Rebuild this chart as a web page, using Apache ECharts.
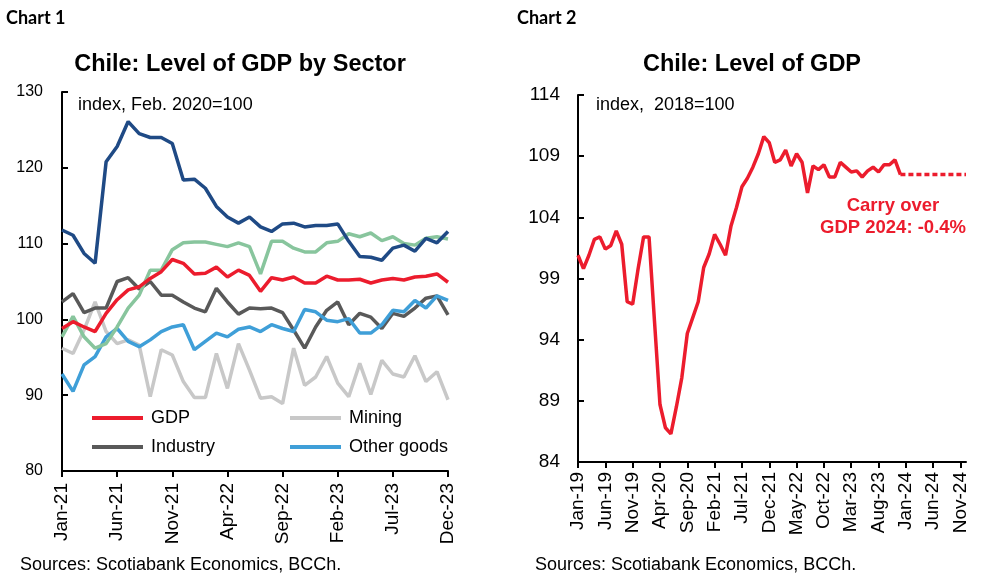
<!DOCTYPE html>
<html>
<head>
<meta charset="utf-8">
<script src="https://cdn.jsdelivr.net/npm/echarts@6/dist/echarts.min.js"></script>
<style>
html,body{margin:0;padding:0;background:#fff;}
#c{width:994px;height:579px;}
</style>
</head>
<body>
<div id="c"></div>
<script>
// ---- Chart 1 data (Jan-21 .. Dec-23) ----
const months1 = ["Jan-21","Feb-21","Mar-21","Apr-21","May-21","Jun-21","Jul-21","Aug-21","Sep-21","Oct-21","Nov-21","Dec-21",
"Jan-22","Feb-22","Mar-22","Apr-22","May-22","Jun-22","Jul-22","Aug-22","Sep-22","Oct-22","Nov-22","Dec-22",
"Jan-23","Feb-23","Mar-23","Apr-23","May-23","Jun-23","Jul-23","Aug-23","Sep-23","Oct-23","Nov-23","Dec-23"];
const gdp = [98.8,99.7,99.0,98.4,100.8,102.6,103.9,104.3,105.4,106.3,107.9,107.4,106.0,106.1,106.9,105.6,106.5,105.8,103.7,105.5,105.2,105.6,104.8,104.8,105.7,105.2,105.2,105.3,104.8,105.2,105.4,105.2,105.6,105.7,106.0,104.9];
const mining = [96.2,95.5,98.6,102.3,98.4,96.8,97.3,96.6,89.8,96.0,95.3,91.8,89.7,89.7,95.5,90.9,96.8,93.3,89.6,89.8,88.9,96.2,91.3,92.4,95.1,91.6,89.8,94.2,90.1,94.6,92.8,92.4,95.2,91.8,93.1,89.4];
const industry = [102.3,103.4,100.9,101.5,101.5,105.0,105.5,104.0,105.0,103.2,103.2,102.3,101.5,101.0,104.1,102.3,100.7,101.5,101.4,101.5,100.9,98.6,96.2,99.0,101.2,102.3,99.3,100.8,100.3,98.8,100.8,100.4,101.5,102.8,103.1,100.6];
const otherGoods = [92.8,90.5,94.0,95.1,97.7,98.8,97.1,96.4,97.3,98.4,99.0,99.3,96.0,97.1,98.2,97.7,98.7,99.0,98.4,99.3,98.8,98.4,101.3,101.0,99.9,99.7,100.1,98.2,98.2,99.3,101.2,101.0,102.5,101.5,103.1,102.5];
const services = [111.8,111.1,108.7,107.4,120.8,122.8,126.1,124.5,124.0,124.0,123.2,118.4,118.5,117.3,114.9,113.5,112.7,113.5,112.2,111.6,112.6,112.7,112.2,112.4,112.4,112.6,110.3,108.3,108.2,107.8,109.4,109.8,109.0,110.7,110.1,111.6];
const commerce = [97.7,100.4,97.7,96.2,96.8,99.0,101.5,103.2,106.5,106.5,109.2,110.1,110.2,110.2,109.9,109.6,110.1,109.6,106.0,110.3,110.3,109.4,108.9,108.9,110.1,110.3,111.3,110.9,111.4,110.4,110.9,110.0,109.8,110.7,110.9,110.6];
const yTicks1 = [80,90,100,110,120,130];

// ---- Chart 2 data (Jan-19 .. Dec-24) ----
const months2 = [];
(function(){
  const m = ["Jan","Feb","Mar","Apr","May","Jun","Jul","Aug","Sep","Oct","Nov","Dec"];
  for (let y = 19; y <= 24; y++) for (let k = 0; k < 12; k++) months2.push(m[k] + "-" + y);
})();
const gdpLevel = [100.9,99.8,100.9,102.2,102.4,101.4,101.7,102.9,101.8,97.1,96.9,99.8,
102.4,102.4,95.5,88.7,86.8,86.3,88.5,90.9,94.5,95.8,97.1,99.9,
101.0,102.6,101.8,100.9,103.3,104.8,106.5,107.2,108.1,109.2,110.6,110.1,
108.5,108.7,109.5,108.2,109.2,108.5,106.0,108.2,107.9,108.3,107.3,107.3,
108.5,108.1,107.7,107.8,107.3,107.8,108.1,107.7,108.3,108.3,108.7,107.5];
const carryOver = [107.5,107.5,107.5,107.5,107.5,107.5,107.5,107.5,107.5,107.5,107.5,107.5,107.5]; // Dec-23 .. Dec-24
const yTicks2 = [84,89,94,99,104,109,114];

const solid2 = gdpLevel.concat(new Array(months2.length - gdpLevel.length).fill(null));
const dotted2 = new Array(gdpLevel.length - 1).fill(null).concat(carryOver);

const FONT = "'Liberation Sans', Arial, sans-serif";
const C_GDP = '#ec1c2d', C_MIN = '#c8c8c8', C_IND = '#595959', C_OTH = '#3f9fd8', C_SRV = '#1f4a85', C_COM = '#88c59d';

const chart = echarts.init(document.getElementById('c'), null, {renderer:'canvas'});

function lineSeries(name, data, color, xi, z) {
  return { name, type:'line', data, xAxisIndex:xi, yAxisIndex:xi, symbol:'none', showSymbol:false,
    lineStyle:{color, width:3.5}, itemStyle:{color}, z: z||2, animation:false };
}
function legend(name, left, top) {
  return { data:[name], left, top, padding:0, icon:'rect', itemWidth:51, itemHeight:4, itemGap:0,
    textStyle:{fontFamily:FONT, fontSize:18, color:'#000', padding:[0,0,0,3]} };
}
const catAxisBase = (gi, data, labelSize, margin) => ({
  type:'category', gridIndex:gi, data, boundaryGap:false,
  axisLine:{lineStyle:{color:'#000', width:2}},
  axisTick:{show:true, interval:4, length:6, lineStyle:{color:'#000', width:2}},
  axisLabel:{interval:4, rotate:90, fontFamily:FONT, fontSize:labelSize, color:'#000', margin},
  splitLine:{show:false}
});

chart.setOption({
  animation:false,
  backgroundColor:'#fff',
  grid:[
    {left:62, top:92, width:386, height:379, containLabel:false},
    {left:578, top:95, width:388, height:367, containLabel:false}
  ],
  xAxis:[ catAxisBase(0, months1, 19, 12), catAxisBase(1, months2, 19, 10) ],
  yAxis:[
    {type:'value', gridIndex:0, min:yTicks1[0], max:yTicks1[yTicks1.length-1], interval:10,
     axisLine:{show:true, lineStyle:{color:'#000', width:2}},
     axisTick:{show:true, inside:true, length:6, lineStyle:{color:'#000', width:2}},
     axisLabel:{fontFamily:FONT, fontSize:16, color:'#000', margin:19},
     splitLine:{show:false}},
    {type:'value', gridIndex:1, min:yTicks2[0], max:yTicks2[yTicks2.length-1], interval:5,
     axisLine:{show:true, lineStyle:{color:'#000', width:2}},
     axisTick:{show:true, inside:true, length:6, lineStyle:{color:'#000', width:2}},
     axisLabel:{fontFamily:FONT, fontSize:19, color:'#000', margin:18},
     splitLine:{show:false}}
  ],
  legend:[
    legend('GDP', 92, 409),
    legend('Mining', 290, 409),
    legend('Industry', 92, 438),
    legend('Other goods', 290, 438)
  ],
  series:[
    lineSeries('Mining', mining, C_MIN, 0, 2),
    lineSeries('Industry', industry, C_IND, 0, 3),
    lineSeries('Other goods', otherGoods, C_OTH, 0, 4),
    lineSeries('Commerce', commerce, C_COM, 0, 5),
    lineSeries('Services', services, C_SRV, 0, 6),
    lineSeries('GDP', gdp, C_GDP, 0, 7),
    Object.assign(lineSeries('GDP level', solid2, C_GDP, 1, 3), {connectNulls:false}),
    Object.assign(lineSeries('Carry over', dotted2, C_GDP, 1, 2), {lineStyle:{color:C_GDP, width:3.5, type:[5,3]}})
  ],
  graphic:[
    {type:'text', left:6, top:9, style:{text:'Chart 1', font:"bold 18px Lato, 'Open Sans', sans-serif", fill:'#000'}},
    {type:'text', left:517, top:9, style:{text:'Chart 2', font:"bold 18px Lato, 'Open Sans', sans-serif", fill:'#000'}},
    {type:'text', x:240, y:65, style:{text:'Chile: Level of GDP by Sector', font:"bold 23.5px " + FONT, fill:'#000', align:'center', verticalAlign:'middle'}},
    {type:'text', x:752, y:65, style:{text:'Chile: Level of GDP', font:"bold 23.5px " + FONT, fill:'#000', align:'center', verticalAlign:'middle'}},
    {type:'text', x:78, y:105, style:{text:'index, Feb. 2020=100', font:"18px " + FONT, fill:'#000', verticalAlign:'middle'}},
    {type:'text', x:596, y:105, style:{text:'index,  2018=100', font:"18px " + FONT, fill:'#000', verticalAlign:'middle'}},
    {type:'text', x:893, y:217, style:{text:'Carry over\nGDP 2024: -0.4%', font:"bold 18.5px " + FONT, fill:C_GDP, align:'center', verticalAlign:'middle', lineHeight:22}},
    {type:'text', x:20, y:565, style:{text:'Sources: Scotiabank Economics, BCCh.', font:"18px " + FONT, fill:'#000', verticalAlign:'middle'}},
    {type:'text', x:535, y:565, style:{text:'Sources: Scotiabank Economics, BCCh.', font:"18px " + FONT, fill:'#000', verticalAlign:'middle'}}
  ]
});
</script>
</body>
</html>
